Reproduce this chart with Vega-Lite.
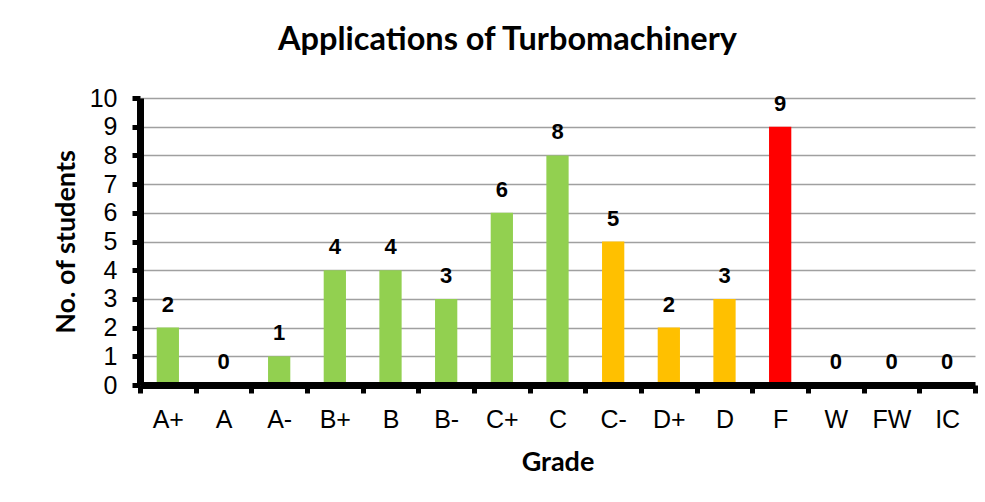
{
  "$schema": "https://vega.github.io/schema/vega-lite/v6.json",
  "width": 835,
  "height": 287,
  "autosize": {"type": "none"},
  "padding": {"left": 140, "top": 98, "right": 10, "bottom": 117},
  "background": "white",
  "title": {
    "text": "Applications of Turbomachinery",
    "font": "Lato",
    "fontSize": 32.5,
    "fontWeight": "bold",
    "color": "black",
    "anchor": "middle",
    "frame": "group",
    "baseline": "alphabetic",
    "dx": -50,
    "offset": 4
  },
  "data": {
    "values": [
      {"grade": "A+", "count": 2, "band": "pass"},
      {"grade": "A", "count": 0, "band": "pass"},
      {"grade": "A-", "count": 1, "band": "pass"},
      {"grade": "B+", "count": 4, "band": "pass"},
      {"grade": "B", "count": 4, "band": "pass"},
      {"grade": "B-", "count": 3, "band": "pass"},
      {"grade": "C+", "count": 6, "band": "pass"},
      {"grade": "C", "count": 8, "band": "pass"},
      {"grade": "C-", "count": 5, "band": "marginal"},
      {"grade": "D+", "count": 2, "band": "marginal"},
      {"grade": "D", "count": 3, "band": "marginal"},
      {"grade": "F", "count": 9, "band": "fail"},
      {"grade": "W", "count": 0, "band": "other"},
      {"grade": "FW", "count": 0, "band": "other"},
      {"grade": "IC", "count": 0, "band": "other"}
    ]
  },
  "encoding": {
    "x": {
      "field": "grade",
      "type": "nominal",
      "sort": null,
      "scale": {"paddingInner": 0, "paddingOuter": 0},
      "axis": {
        "title": "Grade",
        "labelAngle": 0,
        "tickBand": "extent",
        "grid": false,
        "zindex": 1,
        "domainColor": "black",
        "domainWidth": 7,
        "tickColor": "black",
        "tickWidth": 5,
        "tickSize": 8,
        "labelFont": "Liberation Sans",
        "labelFontSize": 25,
        "labelColor": "black",
        "labelPadding": 14,
        "titleFont": "Lato",
        "titleFontSize": 27,
        "titleFontWeight": "bold",
        "titleColor": "black",
        "titleBaseline": "middle",
        "titleY": 77
      }
    },
    "y": {
      "field": "count",
      "type": "quantitative",
      "scale": {"domain": [0, 10], "nice": false},
      "axis": {
        "title": "No. of students",
        "values": [0, 1, 2, 3, 4, 5, 6, 7, 8, 9, 10],
        "grid": true,
        "gridColor": "#a0a0a0",
        "gridWidth": 1.5,
        "domainColor": "black",
        "domainWidth": 7,
        "tickColor": "black",
        "tickWidth": 5,
        "tickSize": 8,
        "labelFont": "Liberation Sans",
        "labelFontSize": 25,
        "labelColor": "black",
        "labelPadding": 15,
        "titleFont": "Lato",
        "titleFontSize": 27,
        "titleFontWeight": "bold",
        "titleColor": "black",
        "titleAlign": "center",
        "titleBaseline": "middle",
        "titleX": -74,
        "titleY": 143.5
      }
    }
  },
  "layer": [
    {
      "mark": {"type": "bar", "width": {"band": 0.4}},
      "encoding": {
        "color": {
          "field": "band",
          "type": "nominal",
          "scale": {
            "domain": ["pass", "marginal", "fail", "other"],
            "range": ["#92D050", "#FFC000", "#FF0000", "#92D050"]
          },
          "legend": null
        }
      }
    },
    {
      "mark": {
        "type": "text",
        "font": "Liberation Sans",
        "fontSize": 22,
        "fontWeight": "bold",
        "color": "black",
        "baseline": "alphabetic",
        "dy": -16
      },
      "encoding": {"text": {"field": "count", "type": "quantitative"}}
    }
  ],
  "config": {"view": {"stroke": null}}
}
